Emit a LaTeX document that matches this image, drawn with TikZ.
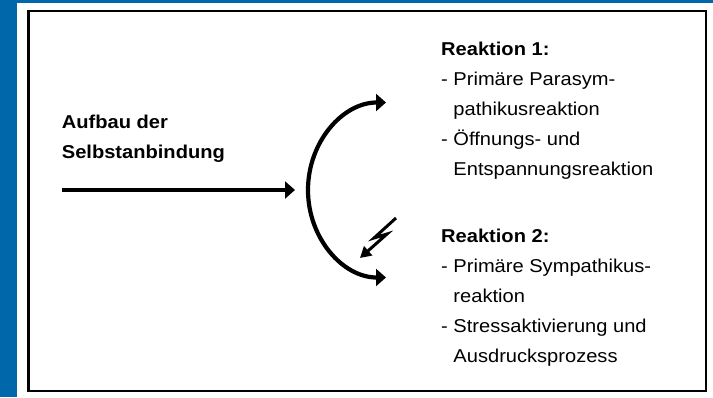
\documentclass[tikz,border=0pt]{standalone}
\usepackage{fontspec}
\setmainfont{Liberation Sans}[FakeStretch=1.08]
\usetikzlibrary{positioning}
\usetikzlibrary{arrows.meta}
\definecolor{frameblue}{RGB}{0,104,170}

\begin{document}
\begin{tikzpicture}[x=1pt, y=1pt,
        line/.style={inner sep=0pt, anchor=base west, font=\fontsize{18.6}{22}\selectfont},
        head/.style={line, font=\fontsize{18.6}{22}\selectfont\bfseries},
        flow/.style={line width=4.2pt, -{Triangle[length=10pt, width=17pt]}}]
        \useasboundingbox (0,0) rectangle (713,-397);
        \fill[white] (0,0) rectangle (713,-397);
        \fill[frameblue] (0,0) rectangle (16.7,-397);
        \fill[frameblue] (0,0) rectangle (713,-3.3);
        \draw[line width=2.6pt] (28.5,-11) rectangle (706,-391);

        \node[head] (aufbau_1) at (61.7,-128.3) {Aufbau der};
        \node[head, below = 30.5pt of aufbau_1.base west, anchor=base west] (aufbau_2) {Selbstanbindung};

        \node[head] (reak_1) at (441,-55) {Reaktion 1:};
        \node[line, below = 30pt of reak_1.base west, anchor=base west] (item_11) {- Primäre Parasym-};
        \node[line, below = 30pt of item_11.base west, anchor=base west] (item_12) {\hphantom{- }pathikusreaktion};
        \node[line, below = 30pt of item_12.base west, anchor=base west] (item_13) {- Öffnungs- und};
        \node[line, below = 30pt of item_13.base west, anchor=base west] (item_14) {\hphantom{- }Entspannungsreaktion};

        \node[head] (reak_2) at (441,-242) {Reaktion 2:};
        \node[line, below = 30pt of reak_2.base west, anchor=base west] (item_21) {- Primäre Sympathikus-};
        \node[line, below = 30pt of item_21.base west, anchor=base west] (item_22) {\hphantom{- }reaktion};
        \node[line, below = 30pt of item_22.base west, anchor=base west] (item_23) {- Stressaktivierung und};
        \node[line, below = 30pt of item_23.base west, anchor=base west] (item_24) {\hphantom{- }Ausdrucksprozess};

        % input arrow and the split
        \coordinate (in_start) at (62,-190);
        \coordinate (in_end) at (295,-190);
        \coordinate (split) at (308,-190);
        \draw[flow] (in_start) -- (in_end);
        \draw[flow] (split) arc[start angle=180, end angle=90, x radius=78pt, y radius=87.5pt];
        \draw[flow] (split) arc[start angle=180, end angle=270, x radius=78pt, y radius=87.5pt];

        % lightning
        \draw[line width=3pt, -{Triangle[length=11pt, width=12pt]}]
            (396,-218) -- (374,-238) -- (387,-234) -- (360,-258);
\end{tikzpicture}
\end{document}
